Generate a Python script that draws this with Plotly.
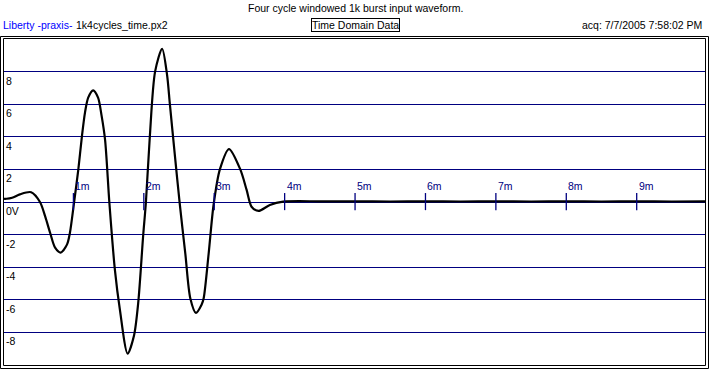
import plotly.graph_objects as go

# ---- data ----
t_ms = [0.0, 0.05, 0.13, 0.24, 0.40, 0.525, 0.60, 0.67, 0.74, 0.82, 0.91, 0.95, 1.01, 1.07,
        1.12, 1.165, 1.21, 1.28, 1.35, 1.40, 1.45, 1.51, 1.59, 1.66, 1.77, 1.86, 1.92, 1.99,
        2.03, 2.085, 2.16, 2.26, 2.33, 2.37, 2.44, 2.51, 2.59, 2.66, 2.74, 2.82, 2.85, 2.92,
        2.99, 3.08, 3.21, 3.37, 3.46, 3.53, 3.63, 3.79, 3.98, 4.5, 5.0, 5.5, 6.0, 6.5, 7.0,
        7.5, 8.0, 8.5, 9.0, 9.5, 9.97]
volts = [0.2, 0.2, 0.26, 0.47, 0.6, 0.0, -0.9, -1.9, -2.8, -3.1, -2.6, -1.9, 0.0, 2.0,
         4.0, 5.5, 6.4, 6.85, 6.4, 5.3, 3.8, 0.0, -4.2, -6.6, -9.3, -8.2, -6.2, -2.1,
         0.0, 4.0, 8.0, 9.4, 7.8, 6.0, 2.9, -0.1, -3.2, -5.9, -6.8, -6.3, -5.9, -3.2,
         -0.2, 2.0, 3.25, 2.0, 0.74, -0.29, -0.55, -0.18, 0.02, 0.04, 0.04, 0.03, 0.04, 0.03, 0.04,
         0.03, 0.04, 0.03, 0.04, 0.03, 0.04]

x_ticks = [1, 2, 3, 4, 5, 6, 7, 8, 9]
x_tick_labels = ["1m", "2m", "3m", "4m", "5m", "6m", "7m", "8m", "9m"]
y_ticks = [8, 6, 4, 2, 0, -2, -4, -6, -8]
y_tick_labels = ["8", "6", "4", "2", "0V", "-2", "-4", "-6", "-8"]

title = "Four cycle windowed 1k burst input waveform."
brand = "Liberty -praxis-"
fname = "1k4cycles_time.px2"
boxed = "Time Domain Data"
acq = "acq: 7/7/2005 7:58:02 PM"

NAVY = "#000080"
FONT = "Liberation Sans, Arial, sans-serif"
FS = 10.5

W, H = 709, 380
L, R, T, B = 3, 705, 39, 365  # plot area in pixels


def pxx(x):
    return (x - L) / (R - L)


def pxy(y):
    return (B - y) / (B - T)


fig = go.Figure()

fig.add_trace(go.Scatter(x=t_ms, y=volts, mode="lines",
                         line=dict(color="black", width=2.2, shape="spline", smoothing=0.8),
                         hoverinfo="skip", showlegend=False))

# x tick marks on the zero line
tx, ty = [], []
for v in x_ticks:
    tx += [v, v, None]
    ty += [0.55, -0.5, None]
fig.add_trace(go.Scatter(x=tx, y=ty, mode="lines", line=dict(color=NAVY, width=1.3),
                         hoverinfo="skip", showlegend=False))

annotations = []
for v, lab in zip(x_ticks, x_tick_labels):
    annotations.append(dict(x=v, y=0, xref="x", yref="y", text=lab, showarrow=False,
                            xanchor="left", yanchor="bottom", xshift=0, yshift=8,
                            font=dict(family=FONT, size=FS, color=NAVY)))
for v, lab in zip(y_ticks, y_tick_labels):
    annotations.append(dict(x=0, y=v, xref="paper", yref="y", text=lab, showarrow=False,
                            xanchor="left", yanchor="top", xshift=1, yshift=-1,
                            font=dict(family=FONT, size=FS, color="black")))

annotations += [
    dict(x=pxx(355), y=pxy(8), xref="paper", yref="paper", text=title, showarrow=False,
         xanchor="center", yanchor="middle", font=dict(family=FONT, size=FS, color="black")),
    dict(x=pxx(1), y=pxy(25), xref="paper", yref="paper", text=brand, showarrow=False,
         xanchor="left", yanchor="middle", font=dict(family=FONT, size=FS, color="#0000FF")),
    dict(x=pxx(74), y=pxy(25), xref="paper", yref="paper", text=fname, showarrow=False,
         xanchor="left", yanchor="middle", font=dict(family=FONT, size=FS, color="black")),
    dict(x=pxx(355), y=pxy(25), xref="paper", yref="paper", text=boxed, showarrow=False,
         xanchor="center", yanchor="middle", bordercolor="black", borderwidth=1, borderpad=0,
         font=dict(family=FONT, size=FS, color="black")),
    dict(x=pxx(704), y=pxy(25), xref="paper", yref="paper", text=acq, showarrow=False,
         xanchor="right", yanchor="middle", font=dict(family=FONT, size=FS, color="black")),
]

shapes = [
    dict(type="rect", xref="paper", yref="paper", x0=pxx(3.5), x1=pxx(705.5), y0=pxy(365.5), y1=pxy(38.5),
         line=dict(color="black", width=1)),
    dict(type="rect", xref="paper", yref="paper", x0=pxx(0.5), x1=pxx(708.5), y0=pxy(368.5), y1=pxy(36.5),
         line=dict(color="black", width=1)),
]

fig.update_layout(
    width=W, height=H,
    margin=dict(l=L, r=W - R, t=T, b=H - B, pad=0),
    paper_bgcolor="white", plot_bgcolor="white",
    xaxis=dict(range=[0, 9.97], showgrid=False, zeroline=False, showticklabels=False,
               ticks="", fixedrange=True),
    yaxis=dict(range=[-10, 10], tickvals=y_ticks, showgrid=True, gridcolor=NAVY, gridwidth=1,
               zeroline=True, zerolinecolor=NAVY, zerolinewidth=1, showticklabels=False,
               ticks="", fixedrange=True),
    annotations=annotations, shapes=shapes, showlegend=False,
)

fig.write_html("out.html", config={"displayModeBar": False},
               post_script="document.body.style.margin='0';document.body.style.overflow='hidden';")
